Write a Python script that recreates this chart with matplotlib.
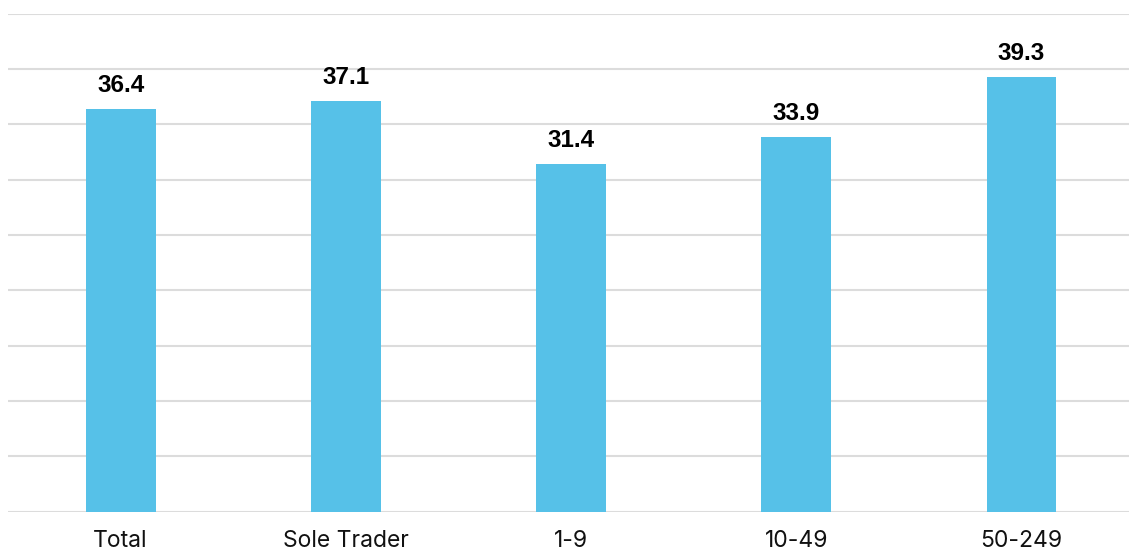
import matplotlib.pyplot as plt
import numpy as np

# Average values by business size
categories = ['Total', 'Sole Trader', '1-9', '10-49', '50-249']
values = [36.4, 37.1, 31.4, 33.9, 39.3]

custom_params = {
    "font.family": ['Inter', 'DejaVu Sans'],
    "axes.spines.left": False,
    "axes.spines.bottom": False,
    "axes.spines.right": False,
    "axes.spines.top": False,
}
plt.rcParams.update(custom_params)

fig = plt.figure(figsize=(11.29, 5.51), dpi=100)
ax = fig.add_axes([8 / 1129, 39.5 / 551, 1 - 8 / 1129, (511.5 - 13.9) / 551])

x = np.arange(len(categories))
bars = ax.bar(x, values, width=0.31, color='#56C1E8', zorder=3)

for xi, v in zip(x, values):
    ax.annotate(f'{v:.1f}', (xi, v), xytext=(0, 8.5), textcoords='offset points',
                ha='center', va='bottom', fontsize=17.5, fontweight='bold',
                family='Liberation Sans', color='#000000')

ax.set_ylim(0, 45)
ax.set_xlim(-0.5, 4.477)
ax.set_yticks(np.arange(0, 46, 5))
ax.set_yticklabels([])
ax.set_xticks(x)
ax.set_xticklabels(categories, fontsize=16.5, color='#111111')
ax.tick_params(axis='both', length=0)
ax.tick_params(axis='x', pad=13)
ax.grid(True, axis='y', color='#dcdcdc', linewidth=1.5, zorder=0)

fig.savefig('out.png', dpi=100)
